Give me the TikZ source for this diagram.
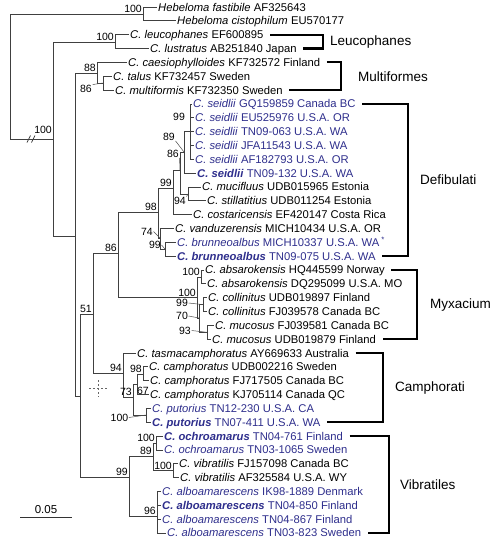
\documentclass[tikz,border=0pt]{standalone}
\usepackage{fontspec}
\setmainfont{Liberation Sans}
\usetikzlibrary{positioning}
\definecolor{taxblu}{RGB}{46,46,140}
\newcommand{\taxon}[1]{\textit{#1}}
\newcommand{\taxonb}[1]{\textbf{\textit{#1}}}

\begin{document}
\begin{tikzpicture}[
  x=1pt, y=-1pt,
  font=\fontsize{11.25}{13}\selectfont,
  foglia/.style={anchor=west, inner xsep=1.5pt, inner ysep=0pt,
                 text height=8pt, text depth=0pt},
  ramo/.style={draw=black!75, line width=0.75pt},
  bs/.style={font=\fontsize{10.5}{12}\selectfont, inner sep=1pt, anchor=south east},
  bsl/.style={font=\fontsize{10.5}{12}\selectfont, inner sep=0.5pt},
  guida/.style={draw=black!70, line width=0.5pt},
  clade/.style={draw=black, line width=2.2pt},
  cladetxt/.style={font=\fontsize{13.5}{15}\selectfont, anchor=west, inner sep=0pt}
]
\useasboundingbox (0,0) rectangle (496,552);

%--------------------------------------------------------------
% Foglie (39 sequenze)
%--------------------------------------------------------------
\foreach \i/\x/\c/\testo in {%
  1/156.5/black/{\taxon{Hebeloma fastibile} AF325643},
  2/175.5/black/{\taxon{Hebeloma cistophilum} EU570177},
  3/128.5/black/{\taxon{C. leucophanes} EF600895},
  4/148.5/black/{\taxon{C. lustratus} AB251840 Japan},
  5/126.5/black/{\taxon{C. caesiophylloides} KF732572 Finland},
  6/111.5/black/{\taxon{C. talus} KF732457 Sweden},
  7/113.5/black/{\taxon{C. multiformis} KF732350 Sweden},
  8/191.5/taxblu/{\taxon{C. seidlii} GQ159859 Canada BC},
  9/193.5/taxblu/{\taxon{C. seidlii} EU525976 U.S.A. OR},
  10/193.5/taxblu/{\taxon{C. seidlii} TN09-063 U.S.A. WA},
  11/193.5/taxblu/{\taxon{C. seidlii} JFA11543 U.S.A. WA},
  12/193.5/taxblu/{\taxon{C. seidlii} AF182793 U.S.A. OR},
  13/195.5/taxblu/{\taxonb{C. seidlii} TN09-132 U.S.A. WA},
  14/200.5/black/{\taxon{C. mucifluus} UDB015965 Estonia},
  15/205.5/black/{\taxon{C. stillatitius} UDB011254 Estonia},
  16/191.5/black/{\taxon{C. costaricensis} EF420147 Costa Rica},
  17/173.5/black/{\taxon{C. vanduzerensis} MICH10434 U.S.A. OR},
  18/175.5/taxblu/{\taxon{C. brunneoalbus} MICH10337 U.S.A. WA\,\textsuperscript{*}},
  19/175.5/taxblu/{\taxonb{C. brunneoalbus} TN09-075 U.S.A. WA},
  20/203.5/black/{\taxon{C. absarokensis} HQ445599 Norway},
  21/205.5/black/{\taxon{C. absarokensis} DQ295099 U.S.A. MO},
  22/206.5/black/{\taxon{C. collinitus} UDB019897 Finland},
  23/206.5/black/{\taxon{C. collinitus} FJ039578 Canada BC},
  24/213.5/black/{\taxon{C. mucosus} FJ039581 Canada BC},
  25/210.5/black/{\taxon{C. mucosus} UDB019879 Finland},
  26/135.5/black/{\taxon{C. tasmacamphoratus} AY669633 Australia},
  27/147.5/black/{\taxon{C. camphoratus} UDB002216 Sweden},
  28/148.5/black/{\taxon{C. camphoratus} FJ717505 Canada BC},
  29/148.5/black/{\taxon{C. camphoratus} KJ705114 Canada QC},
  30/150.5/taxblu/{\taxon{C. putorius} TN12-230 U.S.A. CA},
  31/150.5/taxblu/{\taxonb{C. putorius} TN07-411 U.S.A. WA},
  32/162.5/taxblu/{\taxonb{C. ochroamarus} TN04-761 Finland},
  33/162.5/taxblu/{\taxon{C. ochroamarus} TN03-1065 Sweden},
  34/177.5/black/{\taxon{C. vibratilis} FJ157098 Canada BC},
  35/178.5/black/{\taxon{C. vibratilis} AF325584 U.S.A. WY},
  36/160.5/taxblu/{\taxon{C. alboamarescens} IK98-1889 Denmark},
  37/160.5/taxblu/{\taxonb{C. alboamarescens} TN04-850 Finland},
  38/160.5/taxblu/{\taxon{C. alboamarescens} TN04-867 Finland},
  39/165.5/taxblu/{\taxon{C. alboamarescens} TN03-823 Sweden}}{
  \node[foglia, text=\c] (lf\i) at (\x,{7+13.84*(\i-1)}) {\testo};
}

%--------------------------------------------------------------
% Nodi interni
%--------------------------------------------------------------
\coordinate (root) at (10,14);
\coordinate (heb)  at (143,14);
\coordinate (ing)  at (53,139);
\coordinate (leu)  at (115,42);
\coordinate (n75)  at (75,236);
\coordinate (mul)  at (97,73);
\coordinate (mul2) at (103,83);
\coordinate (n80)  at (80,396);
\coordinate (n93)  at (93,314);
\coordinate (d86)  at (118,253);
\coordinate (d98)  at (158,212);
\coordinate (d99)  at (173,188);
\coordinate (d86b) at (180,170);
\coordinate (s89)  at (184,152);
\coordinate (s99)  at (190,131);
\coordinate (m94)  at (188,194);
\coordinate (v74)  at (160,238);
\coordinate (b99)  at (165,249);
\coordinate (M100) at (197,297.6);
\coordinate (a100) at (201,277);
\coordinate (n70)  at (199,318);
\coordinate (c99)  at (203,304.6);
\coordinate (mu93) at (207,332.3);
\coordinate (C94)  at (123,373);
\coordinate (c73)  at (133,397);
\coordinate (c67)  at (137,384);
\coordinate (c98)  at (143,374);
\coordinate (p100) at (146,415);
\coordinate (V99)  at (129,477);
\coordinate (o89)  at (153,456);
\coordinate (o100) at (156,443);
\coordinate (v100) at (173,470.6);
\coordinate (al96) at (157,516);

%--------------------------------------------------------------
% Rami
%--------------------------------------------------------------
\foreach \p/\f in {root/heb, root/ing, heb/lf1.west, heb/lf2.west,
  ing/leu, ing/n75, leu/lf3.west, leu/lf4.west,
  n75/mul, n75/n80, mul/lf5.west, mul/mul2, mul2/lf6.west, mul2/lf7.west,
  n80/n93, n80/V99, n93/d86, n93/C94, d86/d98, d86/M100,
  d98/d99, d98/v74, d99/d86b, d99/lf16.west, d86b/s89, d86b/m94,
  s89/s99, s89/lf13.west, s99/lf8.west, s99/lf9.west, s99/lf10.west,
  s99/lf11.west, s99/lf12.west, m94/lf14.west, m94/lf15.west,
  v74/lf17.west, v74/b99, b99/lf18.west, b99/lf19.west,
  M100/a100, M100/n70, a100/lf20.west, a100/lf21.west,
  n70/c99, n70/mu93, c99/lf22.west, c99/lf23.west,
  mu93/lf24.west, mu93/lf25.west,
  C94/lf26.west, C94/c73, c73/c67, c73/p100, c67/c98, c67/lf29.west,
  c98/lf27.west, c98/lf28.west, p100/lf30.west, p100/lf31.west,
  V99/o89, V99/al96, o89/o100, o89/v100, o100/lf32.west, o100/lf33.west,
  v100/lf34.west, v100/lf35.west, al96/lf36.west, al96/lf37.west,
  al96/lf38.west, al96/lf39.west}{
  \draw[ramo] (\p) |- (\f);
}

% ramo interrotto
\draw[ramo] (27,142.5) -- (30.5,135.5);
\draw[ramo] (31.5,142.5) -- (35,135.5);

%--------------------------------------------------------------
% Valori di supporto
%--------------------------------------------------------------
\foreach \n/\v in {heb/100, leu/100, mul/88, n93/51, d86/86,
  d98/98, d99/99, M100/100, a100/100, C94/94, c73/73, c98/98,
  V99/99, o89/89, o100/100, v100/100, al96/96}{
  \node[bs] (bs\n) at (\n) {\v};
}
\node[bs, yshift=4pt] (bsing) at (ing) {100};

\node[bsl] (bsmul2) at (86,89)      {86};
\node[bsl] (bss99)  at (179,117)    {99};
\node[bsl] (bss89)  at (169,136.5)  {89};
\node[bsl] (bsd86b) at (173,153.5)  {86};
\node[bsl] (bsm94)  at (180,201)    {94};
\node[bsl] (bsv74)  at (147,231.5)  {74};
\node[bsl] (bsb99)  at (155,245)    {99};
\node[bsl] (bsc99)  at (182,303)    {99};
\node[bsl] (bsn70)  at (182,316)    {70};
\node[bsl] (bsmu93) at (185,330.5)  {93};
\node[bsl] (bsc67)  at (143,391)    {67};
\node[bsl] (bsp100) at (119.5,417.5) {100};

\draw[guida] (bsmul2.north east) -- (mul2);
\draw[guida] (bss89.south east) -- (s89);
\draw[guida] (bsd86b.south east) -- (d86b);
\draw[guida] (bsm94.north east) -- (m94);
\draw[guida] (bsv74.east) -- (v74);
\draw[guida] (bsb99.east) -- (b99);
\draw[guida] (bsc99.east) -- (c99);
\draw[guida] (bsn70.east) -- (n70);
\draw[guida] (bsmu93.east) -- (mu93);
\draw[guida] (bsp100.east) -- (p100);

%--------------------------------------------------------------
% Sezioni con parentesi
%--------------------------------------------------------------
\foreach \nm/\a/\b/\bx/\gap in {Leucophanes/3/4/323/7pt,
  Multiformes/5/7/341/17pt, Defibulati/8/19/408/12pt,
  Myxacium/20/25/417/13pt, Camphorati/26/31/383/12pt,
  Vibratiles/32/39/389/11pt}{
  \coordinate (br\nm) at (\bx,{7+13.84*(\a+\b-2)/2});
  \draw[clade] ([xshift=5pt]lf\a.east) -| (br\nm) |- ([xshift=5pt]lf\b.east);
  \node[cladetxt, right=\gap of br\nm] (lab\nm) {\nm};
}

%--------------------------------------------------------------
% Scala
%--------------------------------------------------------------
\coordinate (sbA) at (20,517);
\coordinate (sbB) at (72,517);
\draw[ramo, draw=black!80] (sbA) -- (sbB);
\node[font=\fontsize{11.5}{13}\selectfont, anchor=south, inner sep=0pt] (scala) at (46,514) {0.05};

% mirino
\draw[black!60, dash pattern=on 2pt off 2pt] (89,388) -- (107,388);
\draw[black!60, dash pattern=on 2pt off 2pt] (98,380) -- (98,397);

\end{tikzpicture}
\end{document}
